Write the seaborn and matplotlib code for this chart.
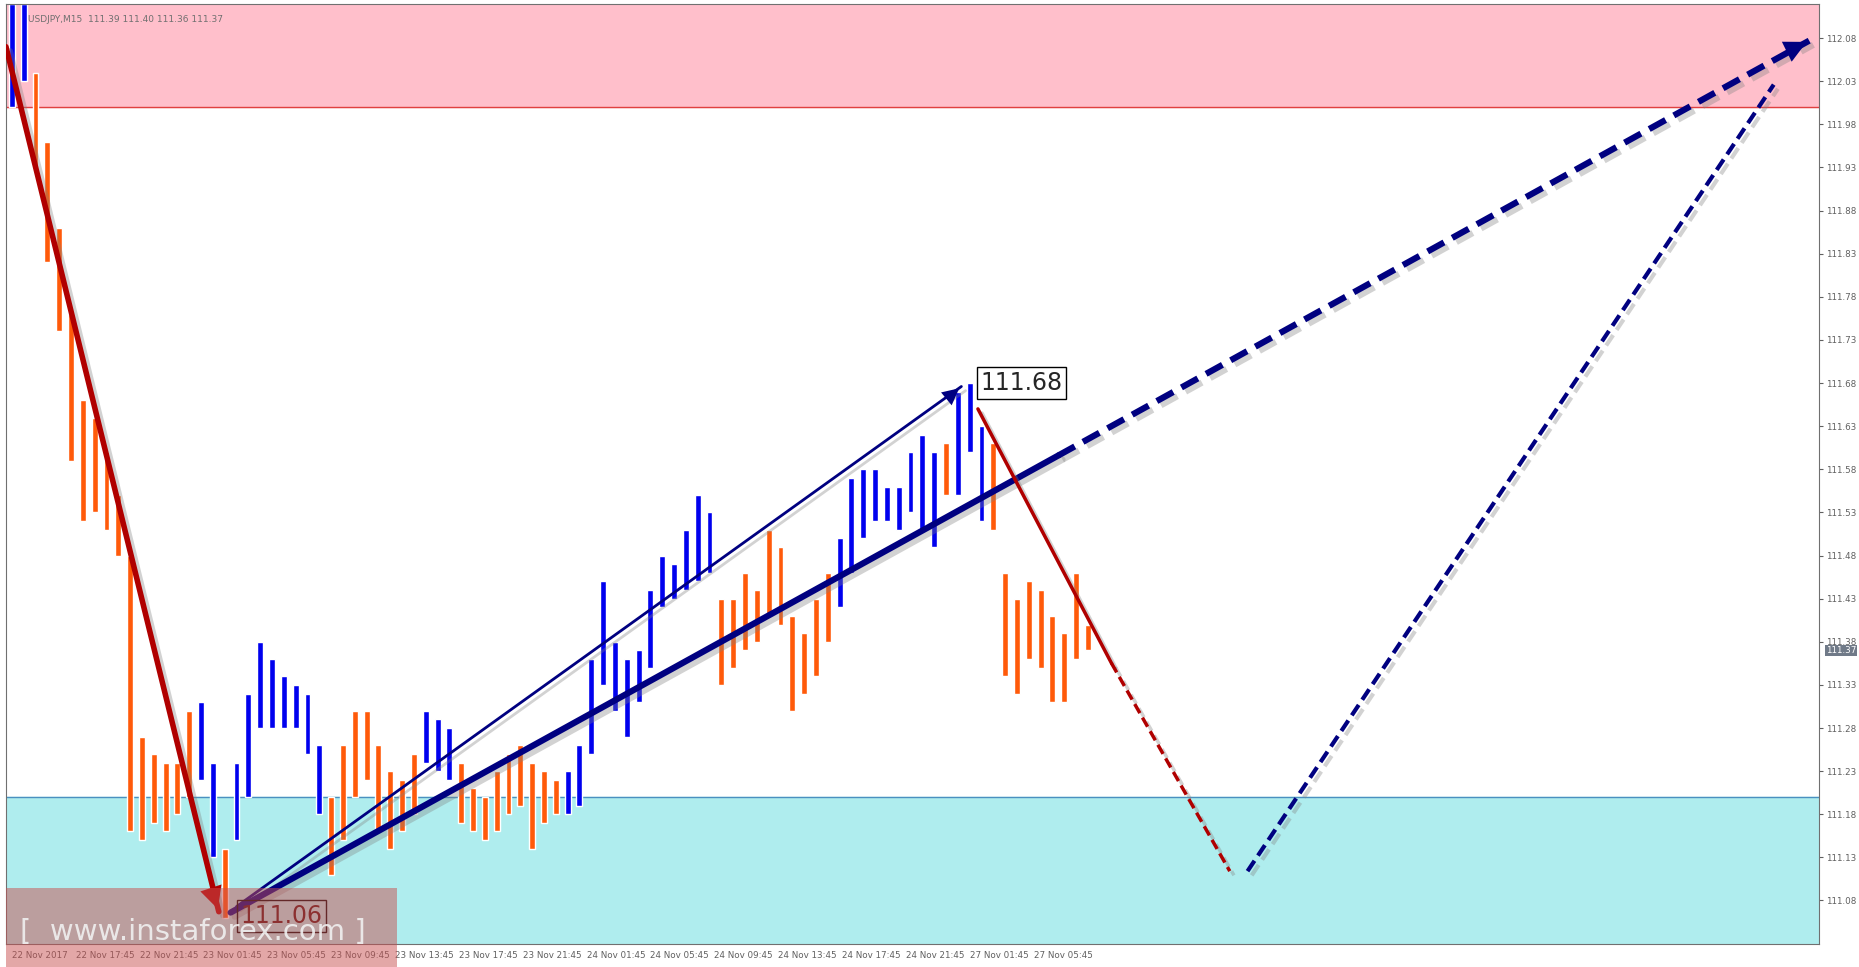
import numpy as np
import pandas as pd
import seaborn as sns
import matplotlib
matplotlib.use("Agg")
import matplotlib.pyplot as plt
import matplotlib.patheffects as pe
from matplotlib.patches import Rectangle

highs = [112.12,112.12,112.04,111.96,111.86,111.76,111.66,111.64,111.60,111.55,
         111.48,111.27,111.25,111.24,111.24,111.30,111.31,111.24,111.14,111.24,
         111.32,111.38,111.36,111.34,111.33,111.32,111.26,111.20,111.26,111.30,
         111.30,111.26,111.23,111.22,111.25,111.30,111.29,111.28,111.24,111.21,
         111.20,111.23,111.25,111.26,111.24,111.23,111.22,111.23,111.26,111.36,
         111.45,111.38,111.36,111.37,111.44,111.48,111.47,111.51,111.55,111.53,
         111.43,111.43,111.46,111.44,111.51,111.49,111.41,111.39,111.43,111.46,
         111.50,111.57,111.58,111.58,111.56,111.56,111.60,111.62,111.60,111.61,
         111.67,111.68,111.63,111.61,111.46,111.43,111.45,111.44,111.41,111.39,
         111.46,111.40]
lows = [112.00,112.03,111.93,111.82,111.74,111.59,111.52,111.53,111.51,111.48,
        111.16,111.15,111.17,111.16,111.18,111.20,111.22,111.13,111.06,111.15,
        111.20,111.28,111.28,111.28,111.28,111.25,111.18,111.11,111.15,111.20,
        111.22,111.16,111.14,111.16,111.18,111.24,111.23,111.22,111.17,111.16,
        111.15,111.16,111.18,111.19,111.14,111.17,111.18,111.18,111.19,111.25,
        111.33,111.30,111.27,111.31,111.35,111.42,111.43,111.44,111.45,111.46,
        111.33,111.35,111.37,111.38,111.41,111.40,111.30,111.32,111.34,111.38,
        111.42,111.46,111.50,111.52,111.52,111.51,111.53,111.51,111.49,111.55,
        111.55,111.60,111.52,111.51,111.34,111.32,111.36,111.35,111.31,111.31,
        111.36,111.37]
wave = list("bb" + "o"*14 + "bb" + "o" + "b"*8 + "o"*8 + "bbb" + "o"*9 + "b"*13
            + "o"*10 + "b"*9 + "o" + "bbb" + "o"*9)

time_labels = ["22 Nov 2017","22 Nov 17:45","22 Nov 21:45","23 Nov 01:45","23 Nov 05:45",
               "23 Nov 09:45","23 Nov 13:45","23 Nov 17:45","23 Nov 21:45","24 Nov 01:45",
               "24 Nov 05:45","24 Nov 09:45","24 Nov 13:45","24 Nov 17:45","24 Nov 21:45",
               "27 Nov 01:45","27 Nov 05:45"]
price_ticks = [111.08,111.13,111.18,111.23,111.28,111.33,111.38,111.43,111.48,111.53,
               111.58,111.63,111.68,111.73,111.78,111.83,111.88,111.93,111.98,112.03,112.08]

# wave lines (bar index, price)
red_main = ([-0.5, 17.5], [112.07, 111.067])
blue_thin = ([19, 80.3], [111.073, 111.676])
blue_thick = ([18.5, 88.5], [111.066, 111.596])
blue_thick_dash = ([88.5, 152], [111.596, 112.077])
red_thin = ([81.7, 93], [111.65, 111.355])
red_thin_dash = ([93, 103], [111.355, 111.114])
blue_dash2 = ([104.5, 149], [111.114, 112.026])

sns.set_style("white")
plt.rcParams['font.family'] = ['DejaVu Sans']
fig = plt.figure(figsize=(18.59, 9.67), dpi=100)
ax = fig.add_axes([0.0032, 0.0233, 0.9751, 0.9730])
ax.set_xlim(-0.5, 152.8)
ax.set_ylim(111.029, 112.12)

ax.axhspan(112.0, 112.2, color="#FFBFCB", zorder=0)
ax.axhline(112.0, color="#E04040", lw=1, zorder=1)
ax.axhspan(110.9, 111.20, color="#AFEDEE", zorder=0)
ax.axhline(111.20, color="#4A90C0", lw=1, zorder=1)

df = pd.DataFrame({"i": np.arange(len(highs)), "hi": highs, "lo": lows, "w": wave})
cols = {"b": "#0000EE", "o": "#FF5A0A"}
ax.bar(df["i"], df["hi"] - df["lo"], bottom=df["lo"], width=0.5,
       color=[cols[w] for w in df["w"]], zorder=2)

sh = [pe.SimpleLineShadow(offset=(3, -3), alpha=0.35, shadow_color="gray"), pe.Normal()]
def line(xy, color, lw, ls="-"):
    d = pd.DataFrame({"x": xy[0], "y": xy[1]})
    sns.lineplot(data=d, x="x", y="y", ax=ax, color=color, lw=lw, linestyle=ls,
                 path_effects=sh, zorder=4, sort=False)

line(red_main, "#B00000", 4)
line(blue_thin, "#000080", 2)
line(blue_thick, "#000080", 4.5)
line(blue_thick_dash, "#000080", 4.5, (0, (3, 1.5)))
line(red_thin, "#B00000", 2.5)
line(red_thin_dash, "#B00000", 2.5, (0, (3, 1.5)))
line(blue_dash2, "#000080", 3, (0, (3, 1.5)))

def head(p0, p1, color, ms):
    ax.annotate("", xy=p1, xytext=p0,
                arrowprops=dict(arrowstyle=f"-|>,head_length={ms},head_width={ms*0.5}",
                                color=color, lw=0), zorder=5)
head((15.5, 111.15), (17.5, 111.067), "#B00000", 1.6)
head((78, 111.65), (80.3, 111.676), "#000080", 1.2)
head((148, 112.05), (152, 112.077), "#000080", 1.6)

ax.text(81.9, 111.68, "111.68", fontsize=17, va="center", ha="left", zorder=6,
        bbox=dict(boxstyle="square,pad=0.15", fc="white", ec="black", lw=1))
ax.text(19.3, 111.062, "111.06", fontsize=17, va="center", ha="left", color="#501010", zorder=6,
        bbox=dict(boxstyle="square,pad=0.15", fc="none", ec="black", lw=1))

ax.add_patch(Rectangle((0.0, -0.04), 0.2155, 0.1, transform=ax.transAxes,
                       color="#C85050", alpha=0.5, clip_on=False, zorder=7, lw=0))
ax.text(0.008, 0.005, "[  www.instaforex.com ]", transform=ax.transAxes, fontsize=21,
        color="#F0F0F0", zorder=8, alpha=0.9)

ax.text(0.012, 0.988, "USDJPY,M15  111.39 111.40 111.36 111.37", transform=ax.transAxes,
        fontsize=6.5, color="#707070", va="top", zorder=6)

ax.yaxis.tick_right()
ax.set_yticks(price_ticks)
ax.set_yticklabels([f"{p:.2f}" for p in price_ticks], fontsize=6.3, color="#606060")
ax.set_xticks([5.4 * k for k in range(len(time_labels))])
ax.set_xticklabels(time_labels, fontsize=6.3, color="#606060", ha="left")
ax.tick_params(axis="both", length=3, color="#606060", pad=2)
ax.set_xlabel(""); ax.set_ylabel("")
for s in ax.spines.values():
    s.set_color("#707070")
ax.text(1.004, 111.37, "111.37", transform=ax.get_yaxis_transform(), fontsize=6.3,
        color="white", va="center", bbox=dict(boxstyle="square,pad=0.1", fc="#707A88", ec="none"))

fig.savefig("out.png", dpi=100)
